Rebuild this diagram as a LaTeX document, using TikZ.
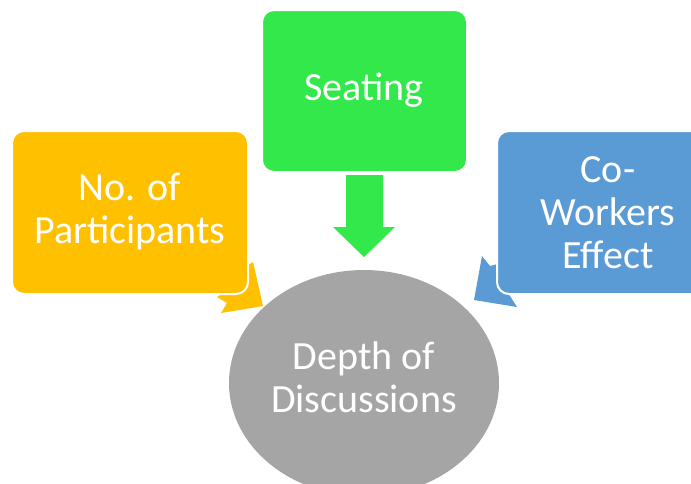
\documentclass[tikz,border=0pt]{standalone}
\usepackage{fontspec}
\setmainfont{Carlito}
\usetikzlibrary{shapes.geometric}
\definecolor{cyel}{HTML}{FFC000}
\definecolor{cgrn}{HTML}{33E84A}
\definecolor{cblu}{HTML}{5B9BD5}
\definecolor{cgry}{HTML}{A5A5A5}
\begin{document}
\begin{tikzpicture}[x=1pt,y=-1pt,
  box/.style={draw=white,line width=2pt,rounded corners=12pt,inner sep=0pt},
  lbl/.style={text=white,font=\fontsize{40}{43}\selectfont,align=center}]
\useasboundingbox (0,0) rectangle (691,483);
% arrows behind boxes
\fill[cyel] (253,262) -- (263,306) -- (221,313) -- (227,303) -- (217,297) -- (235,285) -- (240,270) -- cycle;
\fill[cblu] (482,256) -- (490,266) -- (505,262) -- (505,290) -- (510,296) -- (517,307) -- (474,300) -- cycle;
% boxes
\filldraw[box,fill=cyel] (12,131) rectangle (248,294);
\filldraw[box,fill=cgrn] (262,10) rectangle (467,172);
\filldraw[box,fill=cblu] (497,131) rectangle (710,294);
\node[lbl] (yel) at (130,212) {No. of\\Participants};
\node[lbl] (grn) at (364,90) {Seating};
\node[lbl] (blu) at (608,213) {Co-\\Workers\\Effect};
% green arrow
\fill[cgrn] (346,175) -- (383,175) -- (383,227) -- (395,227) -- (364,257) -- (333,227) -- (346,227) -- cycle;
% ellipse
\node[ellipse,fill=cgry,minimum width=270pt,minimum height=226pt,inner sep=0pt] (ell) at (364,383) {};
\node[lbl] (etxt) at (364,377) {Depth of\\Discussions};
\end{tikzpicture}
\end{document}
